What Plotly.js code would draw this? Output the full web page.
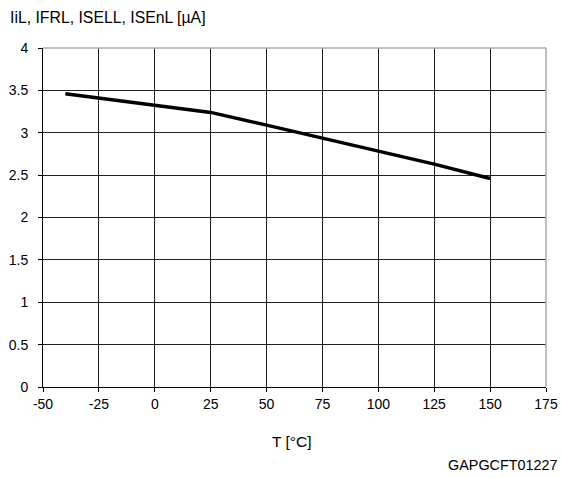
<!DOCTYPE html>
<html><head><meta charset="utf-8">
<script src="https://cdn.plot.ly/plotly-3.0.1.min.js"></script>
<style>body{margin:0;padding:0;background:#fff}#c{width:561px;height:478px}</style>
</head><body><div id="c"></div>
<script>
const temps = [-40, 0, 25, 50, 75, 100, 125, 150];
const current = [3.46, 3.33, 3.24, 3.09, 2.94, 2.79, 2.63, 2.46];
const xTicks = [-50, -25, 0, 25, 50, 75, 100, 125, 150, 175];
const yTicks = [0, 0.5, 1, 1.5, 2, 2.5, 3, 3.5, 4];
const yTickText = ['0', '0.5', '1', '1.5', '2', '2.5', '3', '3.5', '4'];
const F = 'Liberation Sans, Arial, sans-serif';
const L = 43, R = 15, T = 48, B = 90.5, W = 561, H = 478;
const pw = W - L - R, ph = H - T - B;
const px = x => (x - L) / pw;
const py = y => (H - B - y) / ph;
Plotly.newPlot('c', [{
  x: temps, y: current, mode: 'lines', type: 'scatter',
  line: {color: '#000', width: 3.5}, hoverinfo: 'skip'
}], {
  width: W, height: H,
  margin: {l: L, r: R, t: T, b: B},
  paper_bgcolor: '#fff', plot_bgcolor: '#fff',
  showlegend: false,
  font: {family: F, size: 14, color: '#000'},
  xaxis: {
    range: [-50, 175], tickvals: xTicks, ticktext: xTicks.map(String),
    showgrid: true, gridcolor: '#222', gridwidth: 1,
    showline: true, linecolor: '#000', linewidth: 1,
    ticks: 'outside', ticklen: 4, tickcolor: '#000',
    tickfont: {family: F, size: 14},
    zeroline: false, fixedrange: true
  },
  yaxis: {
    range: [0, 4], tickvals: yTicks, ticktext: yTickText,
    showgrid: true, gridcolor: '#222', gridwidth: 1,
    showline: true, linecolor: '#000', linewidth: 1,
    ticks: 'outside', ticklen: 4, tickcolor: '#000',
    tickfont: {family: F, size: 14}, ticklabelstandoff: 7,
    zeroline: false, fixedrange: true
  },
  shapes: [
    {type: 'line', xref: 'paper', yref: 'paper', x0: 0, x1: 1, y0: 1, y1: 1, line: {color: '#aaa', width: 1.5}},
    {type: 'line', xref: 'paper', yref: 'paper', x0: 1, x1: 1, y0: 0, y1: 1, line: {color: '#aaa', width: 1.5}}
  ],
  annotations: [
    {text: 'IiL, IFRL, ISELL, ISEnL [µA]', xref: 'paper', yref: 'paper', x: px(8), y: py(17),
     xanchor: 'left', yanchor: 'middle', showarrow: false, font: {family: F, size: 15.8}},
    {text: 'T [°C]', xref: 'paper', yref: 'paper', x: px(291.7), y: py(442),
     xanchor: 'center', yanchor: 'middle', showarrow: false, font: {family: F, size: 15.5}},
    {text: 'GAPGCFT01227', xref: 'paper', yref: 'paper', x: px(560), y: py(466),
     xanchor: 'right', yanchor: 'middle', showarrow: false, font: {family: F, size: 14.4}}
  ]
}, {displayModeBar: false, staticPlot: true});
</script></body></html>
